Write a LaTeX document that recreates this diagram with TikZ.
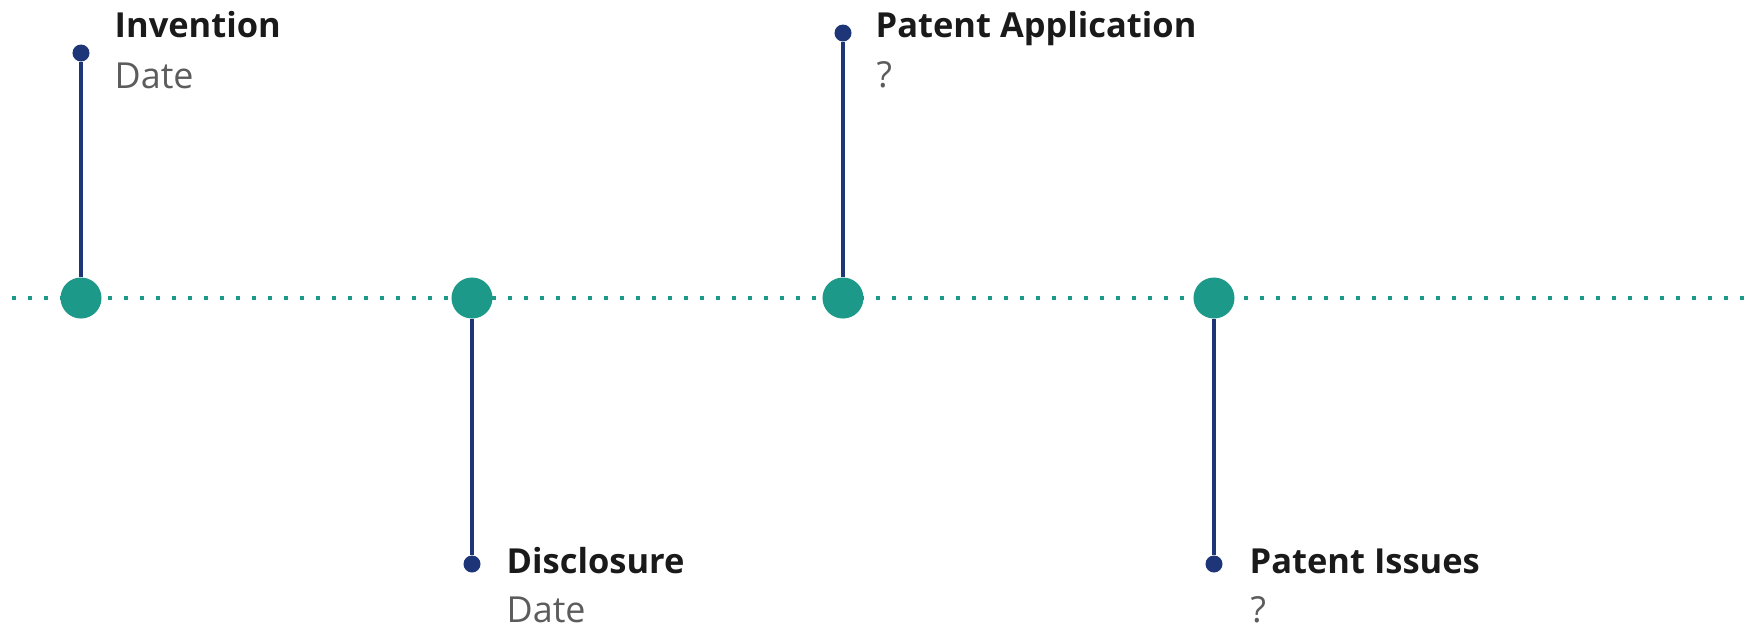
\documentclass[tikz,border=0pt]{standalone}
\usepackage{fontspec}
\setmainfont{Open Sans}
\usepackage{xcolor}
\usepackage{tikz}
\usetikzlibrary{
    calc
}
\definecolor{lineTeal}{RGB}{28, 153, 136}
\definecolor{stemNavy}{RGB}{30, 54, 120}
\definecolor{titleBlack}{RGB}{26, 26, 26}
\definecolor{subGray}{RGB}{92, 92, 92}
\tikzset{
    % 時間軸上の大きな丸
    milestone/.style={
        circle,
        fill=lineTeal,
        inner sep=0pt,
        minimum size=0.41cm
    },
    % 縦線の端の小さな丸
    tipdot/.style={
        circle,
        fill=stemNavy,
        inner sep=0pt,
        minimum size=0.17cm
    },
    % 縦線
    stem/.style={
        draw=stemNavy,
        line width=1.2pt
    },
    % 点線の時間軸
    axis/.style={
        draw=lineTeal,
        line width=1.15pt,
        dash pattern=on 1.15pt off 3.4pt
    },
    % 見出し
    title/.style={
        anchor=base west,
        inner sep=0pt,
        font=\fontsize{9.8}{12}\selectfont\bfseries,
        text=titleBlack
    },
    % 日付など
    sub/.style={
        anchor=base west,
        inner sep=0pt,
        font=\fontsize{10.2}{12}\selectfont,
        text=subGray
    }
}

\begin{document}
\begin{tikzpicture}[x=0.01cm, y=-0.01cm]

    \useasboundingbox (0,0) rectangle (1756,626);

    % 時間軸
    \coordinate (axisStart) at (12,298);
    \coordinate (axisEnd) at (1756,298);
    \draw[axis] (axisStart) -- (axisEnd);

    % [1] Invention (上)
    \node[tipdot] (d1) at (81,53) {};
    \node[milestone] (m1) at (81,298) {};
    \draw[stem] (d1) -- (m1);
    \node[title] (t1) at (114,37) {Invention};
    \node[sub] (s1) at (114,88) {Date};

    % [2] Disclosure (下)
    \node[tipdot] (d2) at (472,564) {};
    \node[milestone] (m2) at (472,298) {};
    \draw[stem] (m2) -- (d2);
    \node[title] (t2) at (506,573) {Disclosure};
    \node[sub] (s2) at (506,622) {Date};

    % [3] Patent Application (上)
    \node[tipdot] (d3) at (843,33) {};
    \node[milestone] (m3) at (843,298) {};
    \draw[stem] (d3) -- (m3);
    \node[title] (t3) at (875,37) {Patent Application};
    \node[sub] (s3) at (876,87) {?};

    % [4] Patent Issues (下)
    \node[tipdot] (d4) at (1214,564) {};
    \node[milestone] (m4) at (1214,298) {};
    \draw[stem] (m4) -- (d4);
    \node[title] (t4) at (1249,573) {Patent Issues};
    \node[sub] (s4) at (1250,622) {?};

\end{tikzpicture}
\end{document}
